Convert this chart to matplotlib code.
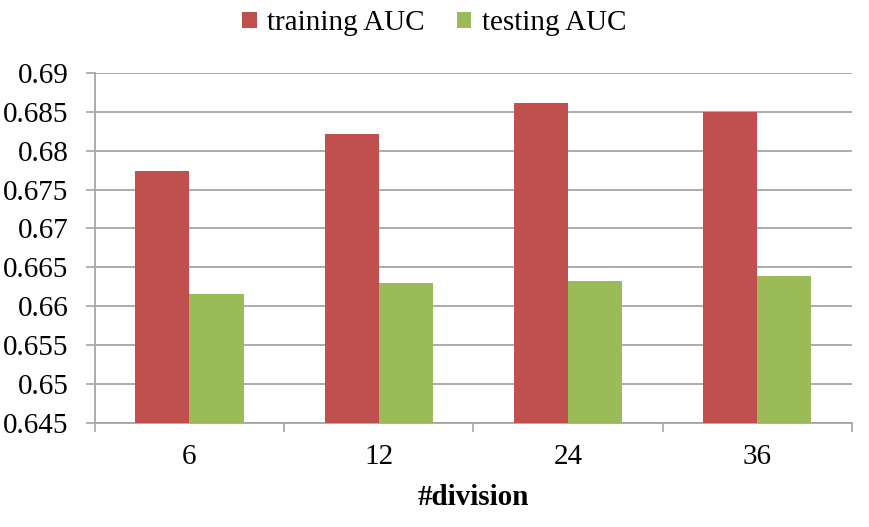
import matplotlib.pyplot as plt
import numpy as np

# data
divisions = ['6', '12', '24', '36']
training_auc = [0.6774, 0.6821, 0.6861, 0.6849]
testing_auc = [0.6616, 0.6630, 0.6633, 0.6639]

red = '#C0504D'
green = '#9BBB59'
grid_col = '#A6A6A6'

plt.rcParams['font.family'] = ['Liberation Serif', 'DejaVu Serif']

fig = plt.figure(figsize=(8.7, 5.27), dpi=100)
ax = fig.add_axes([0.109, 0.197, 0.870, 0.665])

x = np.arange(len(divisions))
w = 0.286
ax.bar(x - w / 2, training_auc, w, color=red, label='training AUC', zorder=3)
ax.bar(x + w / 2, testing_auc, w, color=green, label='testing AUC', zorder=3)

ax.set_ylim(0.645, 0.69)
ax.set_yticks(np.arange(0.645, 0.6901, 0.005))
ax.set_yticklabels(['0.645', '0.65', '0.655', '0.66', '0.665', '0.67',
                    '0.675', '0.68', '0.685', '0.69'], fontsize=21)
ax.yaxis.grid(True, color=grid_col, linewidth=1.3, zorder=0)
ax.set_xlim(-0.5, len(divisions) - 0.5)

# category ticks between groups, labels centered
ax.set_xticks(np.arange(-0.5, len(divisions), 1.0))
ax.set_xticklabels([])
ax.set_xticks(x, minor=True)
ax.set_xticklabels(divisions, minor=True, fontsize=21)
ax.tick_params(axis='x', which='minor', length=0, pad=15)
ax.tick_params(axis='x', which='major', length=6.5, color=grid_col, width=1.2)
ax.tick_params(axis='y', length=6.5, color=grid_col, width=1.2, pad=12.5)

for s in ['top', 'right']:
    ax.spines[s].set_visible(False)
for s in ['left', 'bottom']:
    ax.spines[s].set_color(grid_col)
    ax.spines[s].set_linewidth(1.3)

ax.set_xlabel('#division', fontsize=21, fontweight='bold', labelpad=10)

fig.legend(loc='upper center', bbox_to_anchor=(0.499, 1.03), ncol=2,
           frameon=False, fontsize=21, handlelength=0.5, handleheight=0.5,
           handletextpad=0.35, columnspacing=1.1)

fig.savefig('out.png', dpi=100)
